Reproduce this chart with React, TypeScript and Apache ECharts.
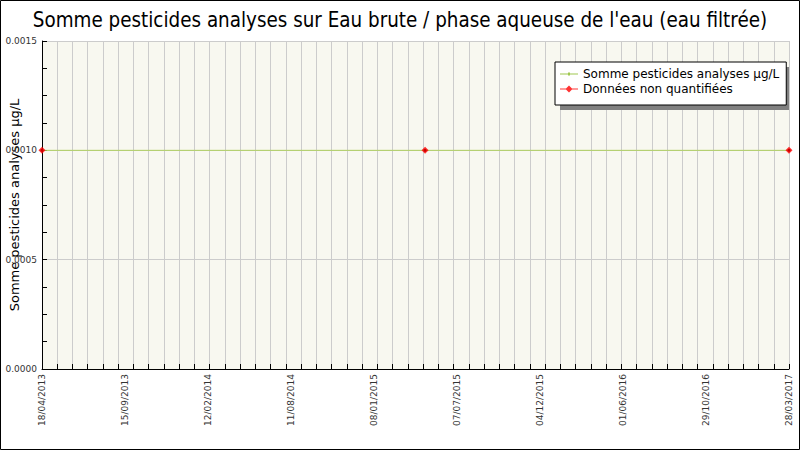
import React, { useEffect, useRef } from "react";
import * as echarts from "echarts";

const titleText = "Somme pesticides analyses sur Eau brute / phase aqueuse de l'eau (eau filtrée)";
const yAxisName = "Somme pesticides analyses µg/L";
const seriesNames = ["Somme pesticides analyses µg/L", "Données non quantifiées"];
const xLabels = [
  "18/04/2013",
  "15/09/2013",
  "12/02/2014",
  "11/08/2014",
  "08/01/2015",
  "07/07/2015",
  "04/12/2015",
  "01/06/2016",
  "29/10/2016",
  "28/03/2017",
];
// position of each sample on the label scale (0 = first label, 9 = last label)
const samplePositions = [0, 4.615, 9];
const sommeValues = [0.001, 0.001, 0.001];
const nonQuantValues = [0.001, 0.001, 0.001];
const gridDivisions = 49;

const TITLE_FONT = "'DejaVu Sans Condensed', 'DejaVu Sans', sans-serif";
const FONT = "'DejaVu Sans', sans-serif";

export default function App() {
  const ref = useRef<HTMLDivElement>(null);
  useEffect(() => {
    document.body.style.margin = "0";
    const chart = echarts.init(ref.current!, null, { renderer: "svg" });
    const scale = gridDivisions / (xLabels.length - 1);
    chart.setOption({
      animation: false,
      backgroundColor: "#ffffff",
      title: {
        text: titleText,
        left: "center",
        top: 5,
        textStyle: { fontFamily: TITLE_FONT, fontSize: 20.4, fontWeight: "normal", color: "#000" },
      },
      grid: {
        left: 42,
        right: 11,
        top: 41,
        bottom: 81,
        containLabel: false,
        outerBoundsMode: "none",
        show: true,
        backgroundColor: "#f8f8f0",
        borderWidth: 0,
      },
      legend: {
        orient: "vertical",
        left: 555,
        top: 62,
        padding: [6, 7, 10, 5],
        itemGap: 3,
        itemWidth: 18,
        itemHeight: 12,
        backgroundColor: "#ffffff",
        borderColor: "#000000",
        borderWidth: 1,
        textStyle: { fontFamily: FONT, fontSize: 12, color: "#000" },
        data: [
          {
            name: seriesNames[0],
            icon: "path://M0,5.5h18v1h-18z M8,4.5h2v3h-2z",
            itemStyle: { color: "#a0c850" },
          },
          {
            name: seriesNames[1],
            icon: "path://M0,5.4h6l3,-3l3,3h6v1.2h-6l-3,3l-3,-3h-6z",
            itemStyle: { color: "#ff0000" },
          },
        ],
      },
      xAxis: [
        {
          type: "value",
          min: 0,
          max: gridDivisions,
          interval: 1,
          position: "bottom",
          axisLine: { show: true, lineStyle: { color: "#000", width: 1 } },
          axisTick: { show: true, inside: true, length: 5, lineStyle: { color: "#000" } },
          axisLabel: { show: false },
          splitLine: { show: true, lineStyle: { color: "#cccccc", width: 1 } },
        },
        {
          type: "value",
          min: 0,
          max: xLabels.length - 1,
          interval: 1,
          position: "bottom",
          axisLine: { show: false },
          axisTick: { show: false },
          splitLine: { show: false },
          axisLabel: {
            show: true,
            rotate: 90,
            margin: 5,
            fontFamily: FONT,
            fontSize: 9,
            color: "#333",
            formatter: (v: number) => xLabels[Math.round(v)] ?? "",
          },
        },
      ],
      yAxis: {
        type: "value",
        min: 0,
        max: 0.0015,
        interval: 0.0005,
        name: yAxisName,
        nameLocation: "middle",
        nameGap: 21,
        nameMoveOverlap: false,
        nameTextStyle: { fontFamily: FONT, fontSize: 13, color: "#000" },
        axisLine: { show: true, lineStyle: { color: "#000", width: 1 } },
        axisTick: { show: true, inside: true, length: 5, lineStyle: { color: "#000" } },
        minorTick: { show: true, splitNumber: 4, length: 5, lineStyle: { color: "#000" } },
        axisLabel: {
          fontFamily: FONT,
          fontSize: 9,
          color: "#333",
          margin: 5,
          formatter: (v: number) => v.toFixed(4),
        },
        splitLine: { show: true, lineStyle: { color: "#cccccc", width: 1 } },
      },
      graphic: [
        {
          type: "rect",
          shape: { x: 560, y: 67, width: 229, height: 43 },
          style: { fill: "#808080" },
          z: 3,
        },
        {
          type: "rect",
          shape: { x: 0.5, y: 0.5, width: 799, height: 449 },
          style: { fill: "none", stroke: "#000", lineWidth: 1 },
          z: 100,
        },
      ],
      series: [
        {
          name: seriesNames[0],
          type: "line",
          xAxisIndex: 0,
          data: samplePositions.map((p, i) => [p * scale, sommeValues[i]]),
          lineStyle: { color: "#b0d060", width: 1 },
          itemStyle: { color: "#000000" },
          symbol: "circle",
          symbolSize: 3,
          z: 2,
        },
        {
          name: seriesNames[1],
          type: "scatter",
          xAxisIndex: 0,
          data: samplePositions.map((p, i) => [p * scale, nonQuantValues[i]]),
          itemStyle: { color: "#ff0000" },
          symbol: "diamond",
          symbolSize: 7,
          z: 3,
        },
      ],
    });
    return () => chart.dispose();
  }, []);
  return <div ref={ref} style={{ width: 800, height: 450 }} />;
}
